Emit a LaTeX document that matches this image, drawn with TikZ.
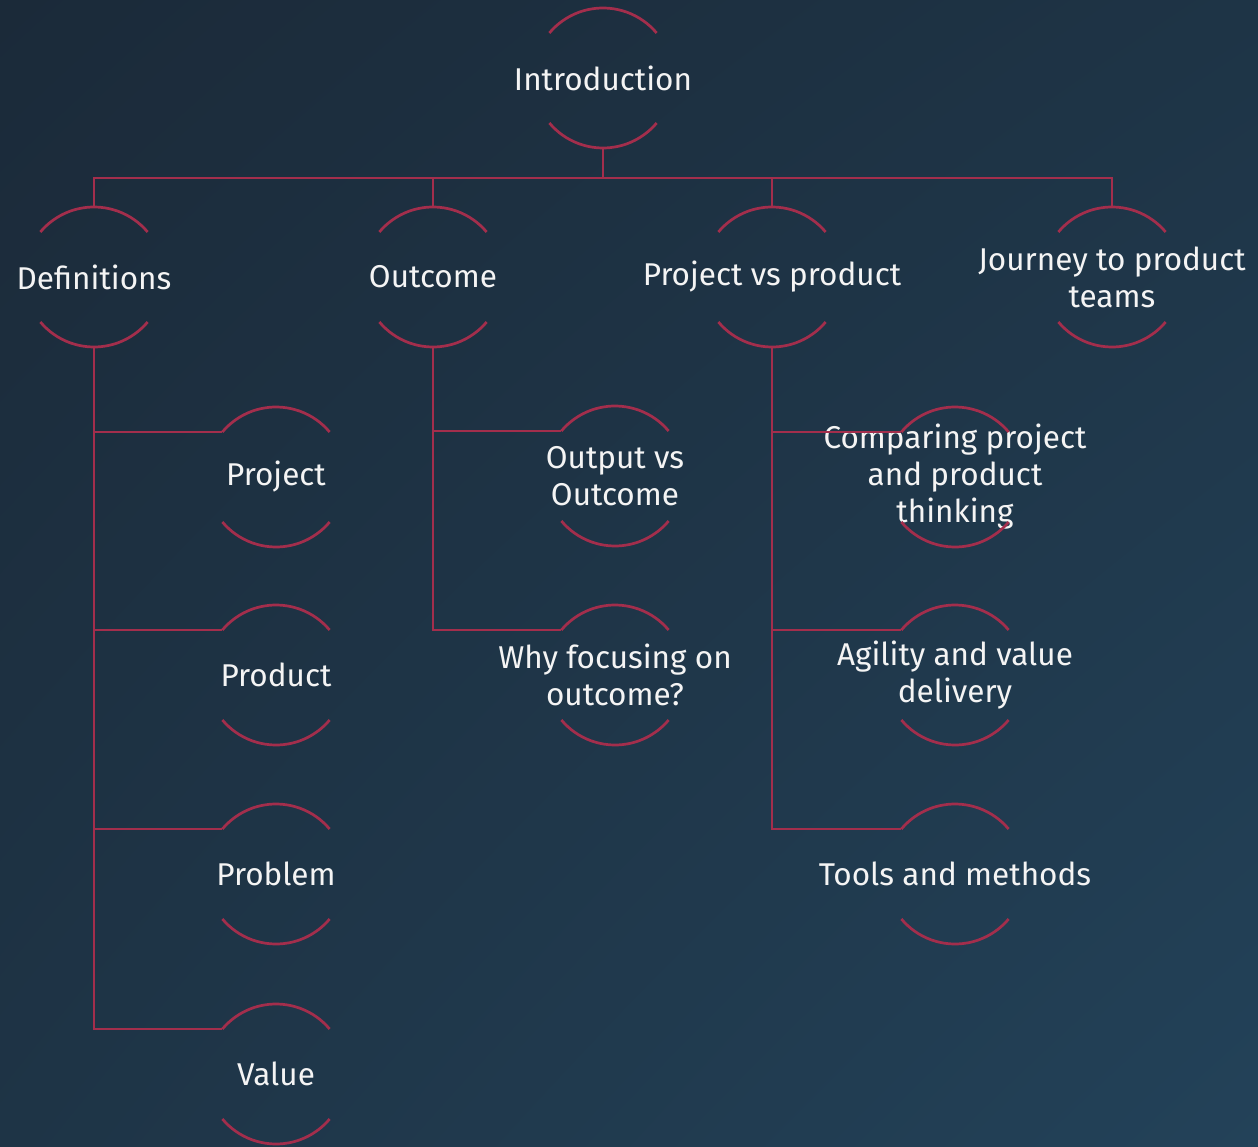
\documentclass[tikz,border=0pt]{standalone}
\usepackage{fontspec}
\setmainfont{Fira Sans}
\usetikzlibrary{shadings}
\definecolor{bgA}{HTML}{1B2A39}
\definecolor{bgB}{HTML}{234259}
\definecolor{bgM}{HTML}{1E3446}
\definecolor{linkc}{HTML}{A32E4C}
\definecolor{txt}{HTML}{F4F4F4}
\tikzset{
  topic/.style={text=txt, align=center, font=\fontsize{31.5}{37}\selectfont, inner sep=0pt},
  link/.style={draw=linkc, line width=2.7pt},
}
\newcommand{\arcsof}[1]{%
  \draw[link] ([shift={(40:70pt)}]#1.center) arc[start angle=40,end angle=140,radius=70pt];
  \draw[link] ([shift={(220:70pt)}]#1.center) arc[start angle=220,end angle=320,radius=70pt];}
\begin{document}
\begin{tikzpicture}[x=1pt,y=1pt]
\shade[upper left=bgA, lower right=bgB, upper right=bgM, lower left=bgM] (0,0) rectangle (1258,-1147);
\useasboundingbox (0,0) rectangle (1258,-1147);
% nodes
\node[topic] (intro) at (603,-78) {Introduction};
\node[topic] (def) at (94,-277) {Definitions};
\node[topic] (out) at (433,-277) {Outcome};
\node[topic] (pvp) at (772,-277) {Project vs product};
\node[topic] (jour) at (1112,-277) {Journey to product\\teams};
\node[topic] (proj) at (276,-477) {Project};
\node[topic] (prod) at (276,-675) {Product};
\node[topic] (prob) at (276,-874) {Problem};
\node[topic] (val) at (276,-1074) {Value};
\node[topic] (ovo) at (615,-476) {Output vs\\Outcome};
\node[topic] (why) at (615,-675) {Why focusing on\\outcome?};
\node[topic] (cmp) at (955,-477) {Comparing project\\and product\\thinking};
\node[topic] (agi) at (955,-675) {Agility and value\\delivery};
\node[topic] (tool) at (955,-874) {Tools and methods};
% arcs
\foreach \n in {intro,def,out,pvp,jour,proj,prod,prob,val,ovo,why,cmp,agi,tool}{\arcsof{\n}}
% connectors
\draw[link] ([shift={(270:70pt)}]intro.center) -- ++(0,-30);
\draw[link] ([shift={(90:70pt)}]def.center) -- ++(0,29) -| ([shift={(90:70pt)}]jour.center);
\draw[link] ([shift={(90:70pt)}]out.center) -- ++(0,29);
\draw[link] ([shift={(90:70pt)}]pvp.center) -- ++(0,29);
\foreach \c in {proj,prod,prob,val}{\draw[link] ([shift={(270:70pt)}]def.center) |- ([shift={(140:70pt)}]\c.center);}
\foreach \c in {ovo,why}{\draw[link] ([shift={(270:70pt)}]out.center) |- ([shift={(140:70pt)}]\c.center);}
\foreach \c in {cmp,agi,tool}{\draw[link] ([shift={(270:70pt)}]pvp.center) |- ([shift={(140:70pt)}]\c.center);}
\end{tikzpicture}
\end{document}
